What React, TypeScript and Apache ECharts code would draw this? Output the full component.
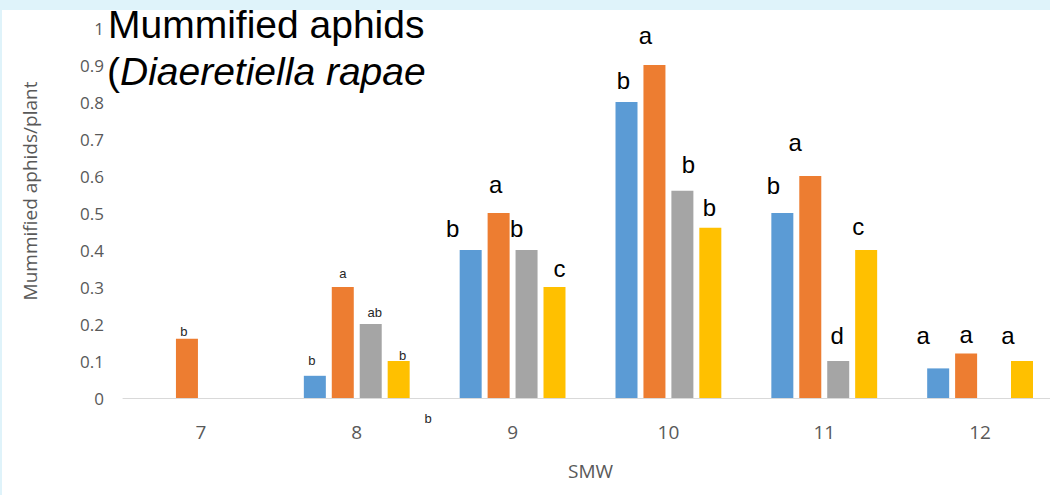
import React, { useEffect, useRef } from 'react';
import * as echarts from 'echarts';

// ---- data ----
const categories = ['7', '8', '9', '10', '11', '12'];
const blueValues = [null, 0.06, 0.4, 0.8, 0.5, 0.08];
const orangeValues = [0.16, 0.3, 0.5, 0.9, 0.6, 0.12];
const grayValues = [null, 0.2, 0.4, 0.56, 0.1, null];
const yellowValues = [null, 0.1, 0.3, 0.46, 0.4, 0.1];

const blueLetters = ['', 'b', 'b', 'b', 'b', 'a'];
const orangeLetters = ['b', 'a', 'a', 'a', 'a', 'a'];
const grayLetters = ['', 'ab', 'b', 'b', 'd', ''];
const yellowLetters = ['', 'b', 'c', 'b', 'c', 'a'];

const titleLine1 = 'Mummified aphids';
const titleLine2Plain = '(';
const titleLine2Italic = 'Diaeretiella rapae';
const yAxisTitle = 'Mummified aphids/plant';
const xAxisTitle = 'SMW';
const strayLetter = 'b';

// ---- label offsets (style only) ----
const blueOffsets = [[0, 0], [-3, -9], [-18, -10], [-3, -10], [-9, -16], [-15, -21]];
const orangeOffsets = [[-3, -1], [0, -7], [-3, -17], [-9, -18], [-15, -22], [0, -7]];
const grayOffsets = [[0, 0], [4, -5], [-10, -10], [6, -14], [-1, -14], [0, 0]];
const yellowOffsets = [[0, 0], [4, 1], [5, -7], [-1, -8], [-8, -12], [-14, -14]];

const ARIAL = '"Liberation Sans", Arial, sans-serif';
const SANS = '"Open Sans", "Noto Sans", sans-serif';

function makeSeries(name: string, values: (number | null)[], letters: string[], offsets: number[][], color: string) {
  return {
    type: 'bar',
    name,
    barWidth: 22,
    barGap: '27%',
    itemStyle: { color },
    label: { show: true, position: 'top', distance: 0, fontFamily: ARIAL },
    data: values.map((v, i) =>
      v == null
        ? null
        : {
            value: v,
            label: {
              show: !!letters[i],
              formatter: letters[i],
              offset: offsets[i],
              fontSize: i < 2 ? 13 : 24,
              color: i < 2 ? '#262626' : '#000000',
            },
          }
    ),
  };
}

export default function App() {
  const ref = useRef<HTMLDivElement>(null);
  useEffect(() => {
    if (!ref.current) return;
    const chart = echarts.init(ref.current, undefined, { renderer: 'svg' });
    chart.setOption({
      animation: false,
      backgroundColor: '#ffffff',
      grid: { left: 123, right: 0, top: 28, bottom: 97, containLabel: false, outerBoundsMode: 'none' },
      xAxis: {
        type: 'category',
        data: categories,
        axisLine: { lineStyle: { color: '#d9d9d9', width: 1 } },
        axisTick: { show: false },
        axisLabel: { color: '#595959', fontSize: 19, fontFamily: SANS, margin: 24 },
        name: xAxisTitle,
        nameLocation: 'middle',
        nameGap: 63,
        nameTextStyle: { color: '#595959', fontSize: 19, fontFamily: SANS },
      },
      yAxis: {
        type: 'value',
        min: 0,
        max: 1,
        interval: 0.1,
        axisLine: { show: false },
        axisTick: { show: false },
        splitLine: { show: false },
        axisLabel: { color: '#595959', fontSize: 17, fontFamily: SANS, margin: 19 },
      },
      series: [
        makeSeries('s1', blueValues, blueLetters, blueOffsets, '#5b9bd5'),
        makeSeries('s2', orangeValues, orangeLetters, orangeOffsets, '#ed7d31'),
        makeSeries('s3', grayValues, grayLetters, grayOffsets, '#a5a5a5'),
        makeSeries('s4', yellowValues, yellowLetters, yellowOffsets, '#ffc000'),
      ],
      graphic: [
        { type: 'rect', shape: { x: 0, y: 0, width: 1060, height: 10 }, style: { fill: '#dff3fa' }, z: 10 },
        { type: 'rect', shape: { x: 0, y: 0, width: 2, height: 495 }, style: { fill: '#dff3fa' }, z: 10 },
        {
          type: 'text',
          x: 108,
          y: 24,
          z: 20,
          style: { text: titleLine1, fontSize: 39, fontFamily: ARIAL, fill: '#000', align: 'left', verticalAlign: 'middle' },
        },
        {
          type: 'text',
          x: 107,
          y: 71,
          z: 20,
          style: {
            text: '{n|' + titleLine2Plain + '}{i|' + titleLine2Italic + '}',
            align: 'left',
            verticalAlign: 'middle',
            rich: {
              n: { fontSize: 39, fontFamily: ARIAL, fill: '#000' },
              i: { fontSize: 39, fontFamily: ARIAL, fontStyle: 'italic', fill: '#000' },
            },
          },
        },
        {
          type: 'text',
          x: 30,
          y: 191,
          rotation: Math.PI / 2,
          style: { text: yAxisTitle, fontSize: 19, fontFamily: SANS, fill: '#595959', align: 'center', verticalAlign: 'middle' },
        },
        {
          type: 'text',
          x: 428,
          y: 418,
          style: { text: strayLetter, fontSize: 13, fontFamily: ARIAL, fill: '#262626', align: 'center', verticalAlign: 'middle' },
        },
      ],
    });
    return () => chart.dispose();
  }, []);
  return (
    <div style={{ position: 'fixed', left: 0, top: 0, width: 1050, height: 495, overflow: 'hidden', background: '#fff' }}>
      <div ref={ref} style={{ width: 1058, height: 495 }} />
    </div>
  );
}
